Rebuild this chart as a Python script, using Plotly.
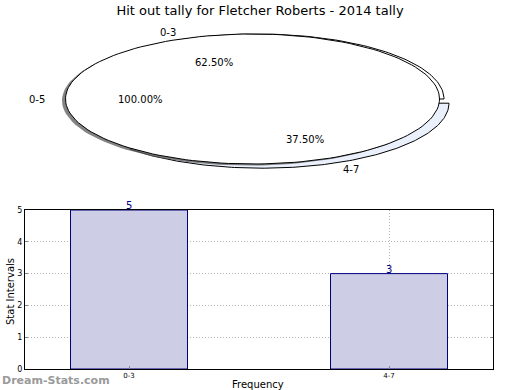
import numpy as np
import plotly.graph_objects as go

# ---- data ----
title_text = "Hit out tally for Fletcher Roberts - 2014 tally"
pie_outer_labels = ["0-3", "4-7"]
pie_outer_values = [5, 3]
pie_inner_labels = ["0-5"]
pie_inner_values = [5]
bar_categories = ["0-3", "4-7"]
bar_values = [5, 3]
y_ticks = [0, 1, 2, 3, 4, 5]

W, H = 520, 390
FONT = "DejaVu Sans"

fig = go.Figure()

# ---- elliptical pies drawn on a pixel-like axis (x2/y2) ----
RX, RY = 187.0, 65.0


def wedge(cx, cy, a0, a1):
    t = np.radians(np.linspace(a0, a1, 160))
    ax = cx + RX * np.cos(t)
    ay = cy - RY * np.sin(t)
    if abs(a1 - a0) >= 359.999:
        return ax, ay
    xs = np.concatenate([[cx], ax, [cx]])
    ys = np.concatenate([[cy], ay, [cy]])
    return xs, ys


def pie_layers(values, labels, colors, cx, cy, explode, shadow=False):
    total = float(sum(values))
    start = 0.0
    if shadow:
        xs, ys = wedge(cx - 3.5, cy + 1.6, 0, 360)
        fig.add_trace(go.Scatter(x=xs, y=ys, mode="lines", fill="toself",
                                 fillcolor="rgba(90,90,90,0.75)",
                                 line=dict(width=0), xaxis="x2", yaxis="y2",
                                 hoverinfo="skip", showlegend=False))
    for v, lab, col, ex in zip(values, labels, colors, explode):
        frac = v / total
        a0, a1 = start, start + 360 * frac
        mid = np.radians((a0 + a1) / 2)
        dx = ex * RX * np.cos(mid)
        dy = -ex * RY * np.sin(mid)
        xs, ys = wedge(cx + dx, cy + dy, a0, a1)
        fig.add_trace(go.Scatter(x=xs, y=ys, mode="lines", fill="toself",
                                 fillcolor=col, line=dict(color="black", width=1),
                                 xaxis="x2", yaxis="y2", hoverinfo="skip",
                                 showlegend=False))
        # label (distance 1.1) and percent (distance 0.6)
        lx = cx + dx + 1.1 * RX * np.cos(mid)
        ly = cy + dy - 1.1 * RY * np.sin(mid)
        anchor = "left" if np.cos(mid) > 1e-6 else ("right" if np.cos(mid) < -1e-6 else "center")
        fig.add_annotation(x=lx, y=ly, xref="x2", yref="y2", text=lab,
                           showarrow=False, xanchor=anchor, yanchor="middle",
                           font=dict(family=FONT, size=10, color="black"))
        px = cx + dx + 0.6 * RX * np.cos(mid)
        py = cy + dy - 0.6 * RY * np.sin(mid)
        fig.add_annotation(x=px, y=py, xref="x2", yref="y2",
                           text="%.2f%%" % (100 * frac),
                           showarrow=False, xanchor="center", yanchor="middle",
                           font=dict(family=FONT, size=10, color="black"))
        start = a1


pie_layers(pie_outer_values, pie_outer_labels, ["white", "#eaf0fc"],
           257.0, 99.0, [0.0, 0.07])
pie_layers(pie_inner_values, pie_inner_labels, ["white"],
           252.5, 99.0, [0.0], shadow=True)

# ---- bar chart ----
fig.add_trace(go.Bar(x=bar_categories, y=bar_values, width=0.45,
                     marker=dict(color="#cdcde5",
                                 line=dict(color="#000080", width=1)),
                     hoverinfo="skip", showlegend=False))
for c, v in zip(bar_categories, bar_values):
    fig.add_annotation(x=c, y=v, xref="x", yref="y", text=str(v),
                       showarrow=False, yanchor="bottom", yshift=-3,
                       font=dict(family=FONT, size=10, color="#000080"))

GRID = dict(showgrid=True, gridcolor="#b4b4b4", griddash="1px,2px", gridwidth=1)

fig.update_layout(
    width=W, height=H, autosize=False, margin=dict(l=0, r=0, t=0, b=0, pad=0),
    paper_bgcolor="white", plot_bgcolor="white",
    title=dict(text=title_text, x=0.5, xanchor="center", y=1 - 10 / H,
               yanchor="middle", automargin=False,
               font=dict(family=FONT, size=13, color="black")),
    xaxis=dict(domain=[25 / W, 493 / W], range=[-0.4, 1.4], type="category",
               showline=True, mirror=True, linecolor="black", linewidth=1,
               ticks="inside", ticklen=3, tickcolor="#888", automargin=False,
               tickfont=dict(family=FONT, size=7, color="black"),
               zeroline=False, fixedrange=True, **GRID),
    yaxis=dict(domain=[(H - 369) / H, (H - 210) / H], range=[0, 5],
               tickvals=y_ticks, ticktext=[str(t) for t in y_ticks],
               showline=True, mirror="allticks", linecolor="black", linewidth=1,
               ticks="inside", ticklen=3, tickcolor="#888", automargin=False,
               tickfont=dict(family=FONT, size=8, color="black"),
               zeroline=False, fixedrange=True, **GRID),
    xaxis2=dict(domain=[0, 1], range=[0, W], visible=False, fixedrange=True,
                automargin=False),
    yaxis2=dict(domain=[1 - 190 / H, 1], range=[190, 0], visible=False,
                fixedrange=True, automargin=False),
)

# axis titles and watermark
fig.add_annotation(x=258 / W, y=(H - 384) / H, xref="paper", yref="paper",
                   text="Frequency", showarrow=False, xanchor="center",
                   yanchor="middle",
                   font=dict(family=FONT, size=10, color="black"))
fig.add_annotation(x=10 / W, y=(H - 292) / H, xref="paper", yref="paper",
                   text="Stat Intervals", showarrow=False, textangle=-90,
                   xanchor="center", yanchor="middle",
                   font=dict(family=FONT, size=10, color="black"))
fig.add_annotation(x=0, y=(H - 380) / H, xref="paper", yref="paper",
                   text="<b>Dream-Stats.com</b>", showarrow=False,
                   xanchor="left", yanchor="middle",
                   font=dict(family=FONT, size=11, color="#9a9a9a"))

fig.write_html("out.html", config={"displayModeBar": False},
               post_script="document.body.style.margin='0';"
                           "document.body.style.overflow='hidden';")
